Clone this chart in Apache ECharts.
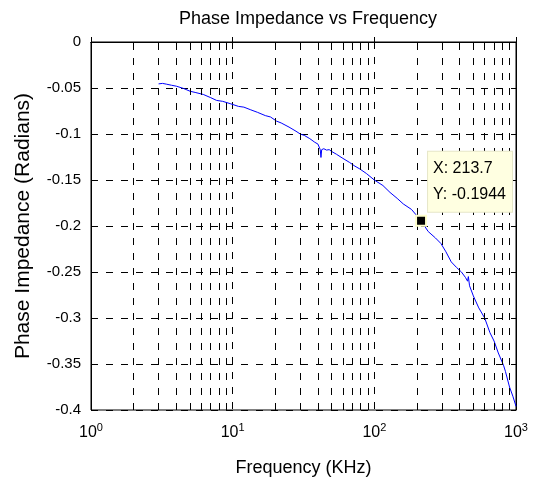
<!DOCTYPE html>
<html>
<head>
<meta charset="utf-8">
<script src="https://cdn.jsdelivr.net/npm/echarts@6/dist/echarts.min.js"></script>
<style>html,body{margin:0;padding:0;background:#fff}#c{width:536px;height:482px}</style>
</head>
<body>
<div id="c"></div>
<script>
// Frequency samples (KHz)
var freqs = [3.0,3.2,3.4,3.7,4.0,4.5,5.0,5.5,6.2,7.0,7.7,8.5,9.6,11,12,13.3,15,17,18.5,20.4,22,25,28,30,32,35,38,40,41.5,42,42.5,44,46,48,50,54,60,67,73,79,88,100,115,129,145,160,183,200,213.7,240,270,295,320,349,380,412,440,455,461,470,500,546,601,655,700,750,819,842,900,950,1000];
// Phase impedance (radians)
var phase = [-0.0455,-0.0450,-0.0458,-0.0470,-0.0480,-0.0505,-0.0535,-0.0550,-0.0570,-0.0605,-0.0635,-0.0645,-0.0670,-0.0700,-0.0708,-0.0735,-0.0765,-0.0800,-0.0815,-0.0860,-0.0880,-0.0925,-0.0970,-0.1000,-0.1015,-0.1050,-0.1090,-0.1110,-0.1170,-0.1255,-0.1170,-0.1160,-0.1175,-0.1170,-0.1190,-0.1220,-0.1265,-0.1310,-0.1350,-0.1380,-0.1430,-0.1500,-0.1560,-0.1635,-0.1700,-0.1760,-0.1820,-0.1890,-0.1944,-0.2060,-0.2130,-0.2190,-0.2280,-0.2390,-0.2450,-0.2500,-0.2560,-0.2600,-0.2550,-0.2650,-0.2760,-0.2890,-0.3000,-0.3160,-0.3250,-0.3380,-0.3520,-0.3580,-0.3750,-0.3850,-0.3960];
// Data tip
var tipX = [213.7];
var tipY = [-0.1944];
// Minor log grid positions
var minorGrid = [2,3,4,5,6,7,8,9,20,30,40,50,60,70,80,90,200,300,400,500,600,700,800,900];

var FONT = 'Liberation Sans, Arial, sans-serif';
var dash = [7, 8];

var lineData = freqs.map(function (f, i) { return [f, phase[i]]; });
var tipData = tipX.map(function (x, i) { return [x, tipY[i]]; });

var chart = echarts.init(document.getElementById('c'), null, {renderer: 'canvas'});
chart.setOption({
  animation: false,
  backgroundColor: '#fff',
  title: {
    text: 'Phase Impedance vs Frequency',
    left: 303, top: 5, textAlign: 'center',
    textStyle: {fontFamily: FONT, fontSize: 18, fontWeight: 'normal', color: '#000'}
  },
  grid: {left: 91, right: 20, top: 42, bottom: 70, show: true, borderColor: '#000', borderWidth: 1},
  xAxis: [{
    type: 'log', logBase: 10, min: 1, max: 1000,
    name: 'Frequency (KHz)', nameLocation: 'middle', nameGap: 49,
    nameTextStyle: {fontFamily: FONT, fontSize: 18, color: '#000'},
    axisLine: {lineStyle: {color: '#000', width: 1}},
    axisTick: {inside: true, length: 5, lineStyle: {color: '#000'}},
    axisLabel: {
      margin: 12, color: '#000',
      formatter: function (v) { return '{b|10}{s|' + Math.round(Math.log10(v)) + '}'; },
      rich: {
        b: {fontFamily: FONT, fontSize: 16, color: '#000'},
        s: {fontFamily: FONT, fontSize: 11, color: '#000', verticalAlign: 'top', padding: [0, 0, 10, 0]}
      }
    },
    splitLine: {show: true, lineStyle: {color: '#000', type: dash, width: 1}}
  }, {
    type: 'log', logBase: 10, min: 1, max: 1000, position: 'top',
    axisLine: {lineStyle: {color: '#000'}},
    axisTick: {inside: true, length: 5, lineStyle: {color: '#000'}},
    axisLabel: {show: false}, splitLine: {show: false}
  }],
  yAxis: [{
    type: 'value', min: -0.4, max: 0, interval: 0.05,
    name: 'Phase Impedance (Radians)', nameLocation: 'middle', nameGap: 57, nameRotate: 90,
    nameTextStyle: {fontFamily: FONT, fontSize: 21, color: '#000'},
    axisLine: {show: true, lineStyle: {color: '#000', width: 1}},
    axisTick: {show: true, inside: true, length: 5, lineStyle: {color: '#000'}},
    axisLabel: {
      margin: 10, fontFamily: FONT, fontSize: 15, color: '#000',
      formatter: function (v) { return String(+v.toFixed(2)); }
    },
    splitLine: {show: true, lineStyle: {color: '#000', type: dash, width: 1}}
  }, {
    type: 'value', min: -0.4, max: 0, interval: 0.05, position: 'right',
    axisLine: {show: true, lineStyle: {color: '#000'}},
    axisTick: {show: true, inside: true, length: 5, lineStyle: {color: '#000'}},
    axisLabel: {show: false}, splitLine: {show: false}
  }],
  series: [{
    type: 'line',
    data: lineData,
    showSymbol: false,
    lineStyle: {color: '#0000ff', width: 1},
    z: 3,
    markLine: {
      silent: true, symbol: 'none', animation: false,
      label: {show: false},
      lineStyle: {color: '#000', type: dash, width: 1},
      data: minorGrid.map(function (g) { return {xAxis: g}; })
    }
  }, {
    type: 'scatter',
    data: tipData,
    zlevel: 1,
    symbol: 'rect', symbolSize: 10,
    itemStyle: {color: '#000', borderColor: '#ffffcc', borderWidth: 2, opacity: 1},
    z: 5,
    label: {
      show: true,
      position: [13, -63],
      align: 'left', verticalAlign: 'top',
      backgroundColor: '#ffffe1',
      borderColor: '#e6e6c8', borderWidth: 1,
      padding: [4, 6, 4, 5],
      fontFamily: FONT, fontSize: 16, color: '#000', lineHeight: 26,
      formatter: function (p) { return 'X: ' + p.value[0] + '\nY: ' + p.value[1]; }
    },
    emphasis: {disabled: true}
  }]
});
</script>
</body>
</html>
